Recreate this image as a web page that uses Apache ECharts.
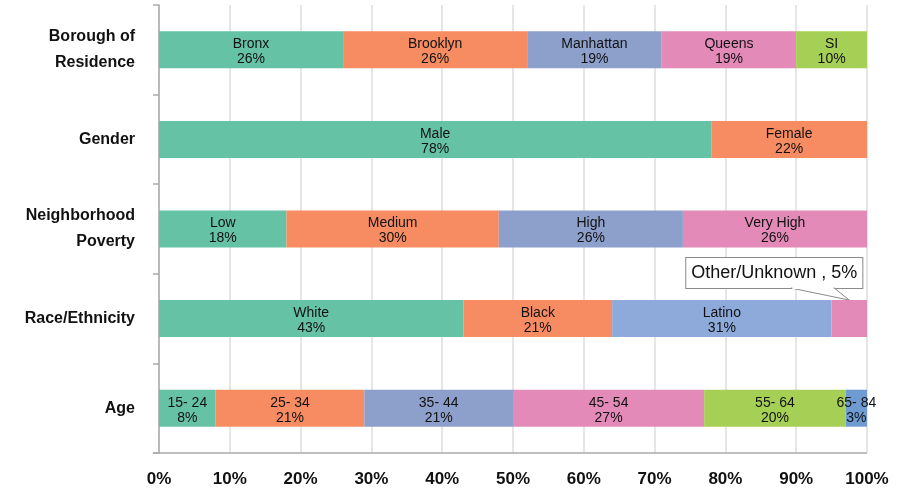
<!DOCTYPE html>
<html><head><meta charset="utf-8">
<script src="https://cdn.jsdelivr.net/npm/echarts@6/dist/echarts.min.js"></script>
<style>html,body{margin:0;padding:0;background:#fff}#c{width:907px;height:491px}</style>
</head><body><div id="c"></div>
<script>
const categories = ['Borough of\nResidence', 'Gender', 'Neighborhood\nPoverty', 'Race/Ethnicity', 'Age'];
const boroughNames = ['Bronx', 'Brooklyn', 'Manhattan', 'Queens', 'SI'];
const boroughValues = [26, 26, 19, 19, 10];
const genderNames = ['Male', 'Female'];
const genderValues = [78, 22];
const povertyNames = ['Low', 'Medium', 'High', 'Very High'];
const povertyValues = [18, 30, 26, 26];
const raceNames = ['White', 'Black', 'Latino', 'Other/Unknown'];
const raceValues = [43, 21, 31, 5];
const ageNames = ['15- 24', '25- 34', '35- 44', '45- 54', '55- 64', '65- 84'];
const ageValues = [8, 21, 21, 27, 20, 3];
const xTicks = [0, 10, 20, 30, 40, 50, 60, 70, 80, 90, 100];

const FONT = "'Liberation Sans', Arial, Helvetica, sans-serif";
const palette = ['#66c2a5', '#f78c63', '#8da0cb', '#e48ab9', '#a6d055', '#6e9bd2'];
const rows = [
  {names: boroughNames, values: boroughValues},
  {names: genderNames, values: genderValues},
  {names: povertyNames, values: povertyValues},
  {names: raceNames, values: raceValues},
  {names: ageNames, values: ageValues}
];
const maxSeg = Math.max(...rows.map(r => r.values.length));
const series = [];
for (let k = 0; k < maxSeg; k++) {
  const data = rows.map((r, ri) => {
    if (k >= r.values.length) return '-';
    const item = {value: r.values[k]};
    if (r.names[k] === 'Latino') item.itemStyle = {color: '#8eaadb'};
    if (r.names[k] === 'Other/Unknown') {
      item.label = {
        show: true, position: 'top', distance: 12, offset: [-75, 0],
        formatter: r.names[k] + ' , ' + r.values[k] + '%',
        fontSize: 18, lineHeight: 20, color: '#111',
        backgroundColor: '#fff', borderColor: '#8a8a8a', borderWidth: 1,
        padding: [5, 5, 5, 5]
      };
    }
    return item;
  });
  series.push({
    type: 'bar', stack: 'all', barWidth: 37,
    itemStyle: {color: palette[k]},
    data: data,
    label: {
      show: true, position: 'inside', color: '#111', fontFamily: FONT,
      fontSize: 14, lineHeight: 15, offset: [0, 2],
      formatter: p => rows[p.dataIndex].names[k] + '\n' + p.value + '%'
    },
    emphasis: {disabled: true},
    animation: false
  });
}

const chart = echarts.init(document.getElementById('c'), null, {renderer: 'canvas'});
chart.setOption({
  animation: false,
  textStyle: {fontFamily: FONT},
  grid: {left: 159, right: 40, top: 5, bottom: 38, containLabel: false},
  xAxis: {
    type: 'value', min: 0, max: 100, interval: 10,
    axisLine: {show: false},
    axisTick: {show: false},
    splitLine: {show: true, lineStyle: {color: '#dedede', width: 1.5}},
    axisLabel: {formatter: v => v + '%', fontSize: 17, fontWeight: 'bold', color: '#111', margin: 18, fontFamily: FONT}
  },
  yAxis: {
    type: 'category', data: categories, inverse: true,
    axisLine: {show: true, lineStyle: {color: '#aaaaaa', width: 1.5}},
    axisTick: {show: true, length: 6, lineStyle: {color: '#aaaaaa', width: 1.5}},
    axisLabel: {fontSize: 16, fontWeight: 'bold', color: '#111', margin: 24, lineHeight: 26, align: 'right', fontFamily: FONT}
  },
  series: series
});

const p100 = chart.convertToPixel({gridIndex: 0}, [100, categories[4]]);
const gridRect = chart.getModel().getComponent('grid', 0).coordinateSystem.getRect();
// callout tail for Other/Unknown
const otherStart = raceValues.slice(0, 3).reduce((a, b) => a + b, 0);
const tip = chart.convertToPixel({gridIndex: 0}, [otherStart + raceValues[3] / 2, categories[3]]);
const barTop = tip[1] - 18.5;
const boxBottom = barTop - 12;
const boxCx = tip[0] - 75;
chart.setOption({
  graphic: [
    {type: 'line', z: 50, shape: {x1: gridRect.x - 6, y1: gridRect.y + gridRect.height, x2: p100[0], y2: gridRect.y + gridRect.height}, style: {stroke: '#aaaaaa', lineWidth: 1.5}},
    {type: 'polygon', z: 200, shape: {points: [[boxCx + 17, boxBottom], [boxCx + 60, boxBottom], [tip[0], barTop]]}, style: {fill: '#fff', stroke: '#8a8a8a', lineWidth: 1}},
    {type: 'line', z: 201, shape: {x1: boxCx + 18, y1: boxBottom, x2: boxCx + 59, y2: boxBottom}, style: {stroke: '#fff', lineWidth: 2}}
  ]
});
</script>
</body></html>
